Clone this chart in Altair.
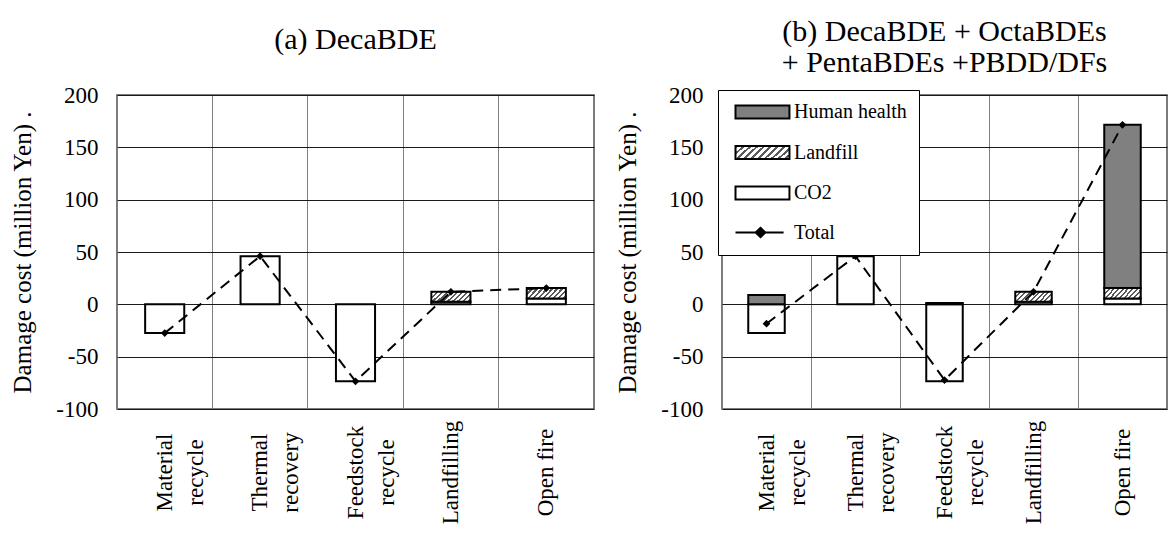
import altair as alt
import pandas as pd

categories = ["Material recycle", "Thermal recovery", "Feedstock recycle", "Landfilling", "Open fire"]
components = ["CO2", "Landfill", "Human health"]
legend_order = ["Human health", "Landfill", "CO2", "Total"]

co2_a = [-27.5, 46.0, -73.5, 2.5, 5.5]
landfill_a = [0.0, 0.0, 0.0, 9.5, 10.0]
health_a = [0.0, 0.0, 0.0, 0.0, 0.0]
total_a = [-27.5, 46.0, -73.5, 12.0, 15.5]

co2_b = [-27.5, 46.0, -73.5, 2.5, 5.5]
landfill_b = [0.0, 0.0, 0.0, 9.5, 10.0]
health_b = [9.0, 0.0, 1.2, 0.0, 156.0]
total_b = [-18.5, 46.0, -72.3, 12.0, 171.5]

y_ticks = [-100, -50, 0, 50, 100, 150, 200]
y_domain = [-100, 200]
title_a = "(a) DecaBDE"
title_b = ["(b) DecaBDE + OctaBDEs", "+ PentaBDEs +PBDD/DFs"]
y_title = "Damage cost (million Yen)  ."

FONT = "Liberation Serif"


def hatch_expr(n, ratio):
    stops = []
    for i in range(n):
        a = i / n
        b = (i + 0.42) / n
        c = (i + 1) / n
        stops += [
            "{offset:%.4f,color:'#5a5a5a'}" % a,
            "{offset:%.4f,color:'#5a5a5a'}" % b,
            "{offset:%.4f,color:'#ffffff'}" % b,
            "{offset:%.4f,color:'#ffffff'}" % c,
        ]
    return "{gradient:'linear',x1:0,y1:0,x2:1.2,y2:%.3f,stops:[%s]}" % (1.2 * ratio, ",".join(stops))


fill_range = ["#808080", alt.ExprRef(expr=hatch_expr(10, 0.26)), "#ffffff", "#000000"]
stroke_range = ["#000000", "#000000", "#000000", "#000000"]
rect_path = "M-1,-1H7.3V1H-1Z"
total_path = "M-1,0H6.4M2.1,0L2.85,-0.7L3.6,0L2.85,0.7Z"
shape_range = [rect_path, rect_path, rect_path, total_path]


def long_bars(co2, landfill, health):
    rows = []
    for i, cat in enumerate(categories):
        for order, (comp, vals) in enumerate(zip(components, [co2, landfill, health])):
            if vals[i] != 0:
                rows.append({"category": cat, "component": comp, "value": vals[i], "order": order})
    return pd.DataFrame(rows)


def panel(co2, landfill, health, total, title, width, show_legend, title_offset):
    bars_df = long_bars(co2, landfill, health)
    tot_df = pd.DataFrame({"category": categories, "total": total})
    # legend-only entries, kept outside the clipped plot area
    leg_df = pd.DataFrame({"category": [categories[0]] * 4, "component": legend_order,
                           "value": [y_domain[1] * 10] * 4})

    x = alt.X(
        "category:N",
        sort=categories,
        title=None,
        scale=alt.Scale(paddingInner=0, paddingOuter=0),
        axis=alt.Axis(
            labelAngle=270,
            labelAlign="center",
            labelBaseline="middle",
            labelExpr="datum.label == 'Open fire' || datum.label == 'Landfilling' ? datum.label : split(datum.label, ' ')",
            labelLineHeight=31,
            labelFontSize=23,
            labelPadding=63,
            ticks=False,
            domain=False,
            grid=True,
            bandPosition=0,
            gridColor="#808080",
            gridWidth=1,
        ),
    )
    y_axis = alt.Axis(
        values=y_ticks,
        labelExpr="toString(datum.value)",
        titleFontSize=25,
        titleFontWeight="normal",
        titlePadding=20,
        labelFontSize=23,
        labelPadding=19,
        ticks=False,
        domain=False,
        grid=True,
        gridColor="#1a1a1a",
        gridWidth=1,
    )
    y_scale = alt.Scale(domain=y_domain, nice=False, zero=False)
    y = alt.Y("value:Q", stack="zero", title=y_title, scale=y_scale, axis=y_axis)

    if show_legend:
        legend = alt.Legend(
            title=None,
            orient="none",
            legendX=-4,
            legendY=-5,
            direction="vertical",
            symbolSize=169,
            symbolOffset=2,
            symbolStrokeColor="#000",
            symbolStrokeWidth=2,
            symbolOpacity=1,
            labelOffset=42,
            labelFont=FONT,
            labelFontSize=20,
            labelColor="#000",
            labelLimit=300,
            rowPadding=18.5,
            padding=12,
            strokeColor="#000",
            fillColor="#ffffff",
        )
    else:
        legend = None

    fill_scale = alt.Scale(domain=legend_order, range=fill_range)

    bars = alt.Chart(bars_df).mark_bar(
        width=alt.RelativeBandSize(0.41), stroke="#000", strokeWidth=2
    ).encode(
        x=x,
        y=y,
        fill=alt.Fill("component:N", scale=fill_scale, legend=legend),
        order=alt.Order("order:Q"),
    )

    helper = alt.Chart(leg_df).mark_point(
        filled=True, clip=True, strokeWidth=2
    ).encode(
        x=alt.X("category:N", sort=categories, title=None),
        y=alt.Y("value:Q", title=y_title, scale=y_scale),
        fill=alt.Fill("component:N", scale=fill_scale, legend=legend),
        stroke=alt.Stroke("component:N", scale=alt.Scale(domain=legend_order, range=stroke_range), legend=legend),
        shape=alt.Shape("component:N", scale=alt.Scale(domain=legend_order, range=shape_range), legend=legend),
    )

    xl = alt.X("category:N", sort=categories, title=None)
    yl = alt.Y("total:Q", title=y_title, scale=y_scale)
    line = alt.Chart(tot_df).mark_line(
        color="#000", strokeWidth=2, strokeDash=[11, 7]
    ).encode(x=xl, y=yl)
    pts = alt.Chart(tot_df).mark_point(
        shape="diamond", filled=True, color="#000", size=60, opacity=1
    ).encode(x=xl, y=yl)

    return alt.layer(bars, helper, line, pts).properties(
        width=width,
        height=314,
        title=alt.TitleParams(
            title,
            font=FONT,
            fontSize=30,
            fontWeight="normal",
            color="#000",
            anchor="middle",
            frame="group",
            offset=title_offset,
            lineHeight=31,
        ),
    )


left = panel(co2_a, landfill_a, health_a, total_a, title_a, 477, False, 29.5)
right = panel(co2_b, landfill_b, health_b, total_b, title_b, 445, True, 6.5)

chart = alt.hconcat(left, right, spacing=128, bounds="flush").resolve_scale(
    fill="independent", shape="independent", stroke="independent"
).configure_axis(
    labelFont=FONT, titleFont=FONT, labelColor="#000", titleColor="#000"
).configure_view(
    stroke="#505050", strokeWidth=1.5
).properties(
    padding={"left": 2, "top": 7, "right": 0, "bottom": 0},
    background="#ffffff",
)

chart.save("out.html", embed_options={"renderer": "svg", "actions": False})
